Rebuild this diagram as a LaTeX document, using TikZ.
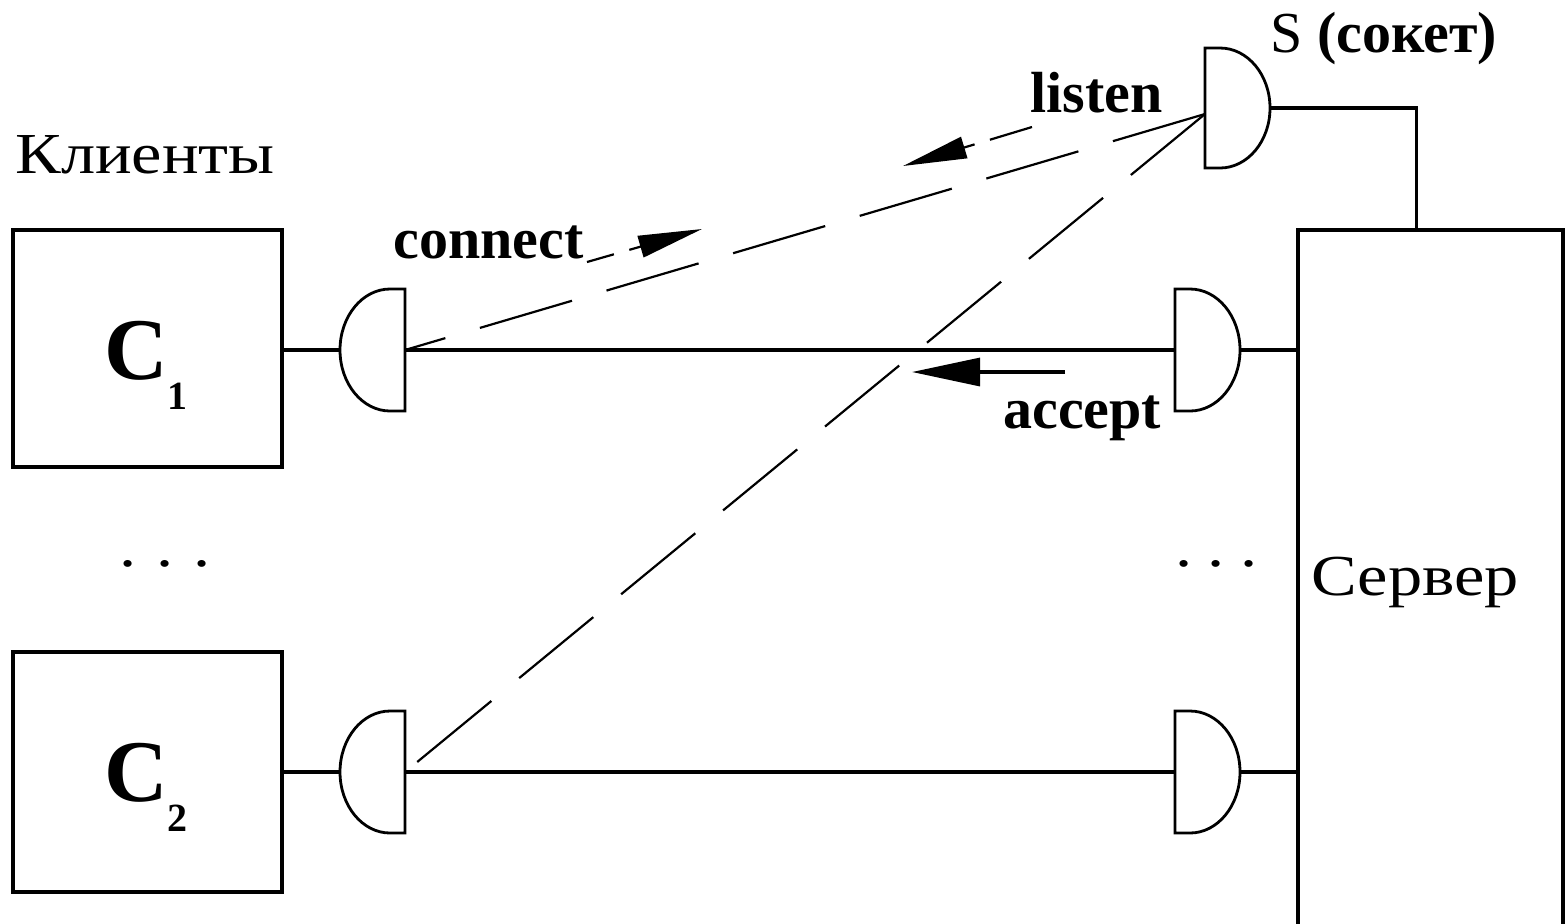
\documentclass[tikz,border=0pt]{standalone}
\usepackage{fontspec}
\setmainfont{Liberation Serif}
\usetikzlibrary{arrows.meta,calc}
\begin{document}
\begin{tikzpicture}[x=0.5pt,y=-0.5pt,
  box/.style={draw, rectangle, inner sep=0pt, line width=1.7pt},
  sock/.style={draw, line width=1.4pt},
  wire/.style={draw, line width=1.6pt},
  dsh/.style={line width=1.1pt, dash pattern=on 48pt off 18pt},
  lbl/.style={font=\bfseries\fontsize{29}{34}\selectfont, inner sep=0pt, anchor=base west},
  plain/.style={font=\fontsize{29}{34}\selectfont, inner sep=0pt, anchor=base west, xscale=1.18},
  big/.style={font=\bfseries\fontsize{44}{44}\selectfont, inner sep=0pt, anchor=base west},
  tip/.style={-{Triangle[length=32pt,width=11pt]}}
]
\useasboundingbox (0,0) rectangle (1566,923);

% boxes
\node[box, minimum width=134.5pt, minimum height=118.5pt] (c1) at (147.5,348.5) {};
\node[box, minimum width=134.5pt, minimum height=120pt] (c2) at (147.5,772) {};
\node[box, minimum width=132.5pt, minimum height=350pt] (srv) at (1430.5,580) {};

% labels
\node[big] (c1lbl) at (104,379) {C\hspace{0pt}\raisebox{-15pt}{\fontsize{20}{20}\selectfont 1}};
\node[big] (c2lbl) at (104,801) {C\hspace{0pt}\raisebox{-15pt}{\fontsize{20}{20}\selectfont 2}};
\node[plain] (kl) at (15,173) {Клиенты};
\node[plain] (sv) at (1311,595) {Сервер};
\node[plain] (dl) at (119,566) {.\hspace{8.4pt}.\hspace{8.4pt}.};
\node[plain] (dr) at (1175,566) {.\hspace{6.5pt}.\hspace{6.5pt}.};
\node[lbl] (sso) at (1270,52) {\mdseries S\ \bfseries(сокет)};
\node[lbl] (ls) at (1030,112) {listen};
\node[lbl] (cn) at (393,258) {connect};
\node[lbl] (ac) at (1003,428) {accept};

% sockets
\coordinate (s1) at (405,350);
\coordinate (s2) at (1175,350);
\coordinate (s3) at (405,772);
\coordinate (s4) at (1175,772);
\coordinate (sS) at (1205,108);
\coordinate (sSd) at (1205,114);

\draw[sock] (s1) ++(0,-61) -- ++(-15,0) arc[start angle=270,end angle=90,x radius=50,y radius=61] -- ++(15,0) -- cycle;
\draw[sock] (s3) ++(0,-61) -- ++(-15,0) arc[start angle=270,end angle=90,x radius=50,y radius=61] -- ++(15,0) -- cycle;
\draw[sock] (s2) ++(0,-61) -- ++(15,0) arc[start angle=270,end angle=450,x radius=50,y radius=61] -- ++(-15,0) -- cycle;
\draw[sock] (s4) ++(0,-61) -- ++(15,0) arc[start angle=270,end angle=450,x radius=50,y radius=61] -- ++(-15,0) -- cycle;
\draw[sock] (sS) ++(0,-60) -- ++(15,0) arc[start angle=270,end angle=450,x radius=50,y radius=60] -- ++(-15,0) -- cycle;

% wires
\draw[wire] (c1.east |- s1) -- ($(s1)+(-65,0)$);
\draw[wire] (s1) -- (s2);
\draw[wire] ($(s2)+(65,0)$) -- (srv.west |- s2);
\draw[wire] (c2.east |- s3) -- ($(s3)+(-65,0)$);
\draw[wire] (s3) -- (s4);
\draw[wire] ($(s4)+(65,0)$) -- (srv.west |- s4);
\draw[wire] ($(sS)+(65,0)$) -| ($(srv.north west)+(120,0)$);

% dashed connections
\draw[dsh] (sSd) -- (s1);
\draw[dsh] (sSd) -- (s3);

% arrows
\coordinate (ca) at (587,262);
\coordinate (cb) at (702,229);
\coordinate (la) at (1032,127);
\coordinate (lb) at (903,166);
\coordinate (aa) at (1065,372);
\coordinate (ab) at (912,372);
\draw[dsh, dash pattern=on 14pt off 8pt, tip] (ca) -- (cb);
\draw[dsh, dash pattern=on 22pt off 8pt, tip] (la) -- (lb);
\draw[wire, -{Triangle[length=34pt,width=14pt]}] (aa) -- (ab);
\end{tikzpicture}
\end{document}
